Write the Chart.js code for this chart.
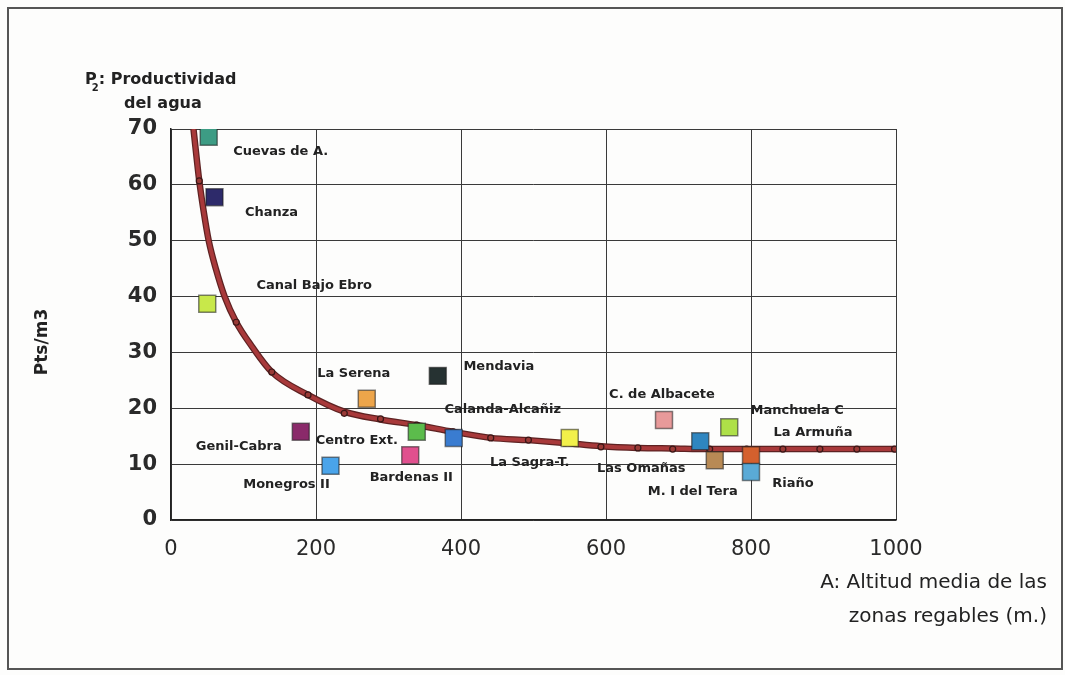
<!DOCTYPE html>
<html>
<head>
<meta charset="utf-8">
<script src="https://cdn.jsdelivr.net/npm/chart.js@4/dist/chart.umd.min.js"></script>
<style>
  body { margin: 0; background: #ffffff; }
  #wrap { width: 1065px; height: 675px; }
</style>
</head>
<body>
<div id="wrap"><canvas id="prodChart" width="1065" height="675"></canvas></div>
<script>
// zonas regables: altitud media (m) y productividad del agua (Pts/m3)
const zoneNames = ['Cuevas de A.', 'Chanza', 'Canal Bajo Ebro', 'Genil-Cabra', 'Monegros II', 'La Serena',
    'Centro Ext.', 'Bardenas II', 'Mendavia', 'Calanda-Alcañiz', 'La Sagra-T.', 'C. de Albacete',
    'Las Omañas', 'M. I del Tera', 'Manchuela C', 'La Armuña', 'Riaño'];
const zoneAltitude = [52, 60, 50, 179, 220, 270, 339, 330, 368, 390, 550, 680, 730, 750, 770, 800, 800];
const zoneProductivity = [68.6, 57.8, 38.7, 15.8, 9.7, 21.7, 15.8, 11.6, 25.8, 14.7, 14.7, 17.9, 14.1, 10.7, 16.6, 11.6, 8.6];
const zoneColors = ['#3d9c84', '#2d2a6a', '#c8e84a', '#8a2a6a', '#4aa4ea', '#eda54a', '#5cbc4c', '#e0508e', '#263232',
    '#3a7cd0', '#f2f04a', '#e89a9a', '#2f86c0', '#b88a55', '#aee048', '#d4602e', '#5aaad6'];

// curva ajustada
const curveAltitude = [31, 39, 45, 52, 62, 74, 90, 112, 139, 189, 239, 289, 339, 389, 441, 493, 543, 593, 644, 692, 743, 794, 844, 895, 946, 1000];
const curveValue = [70, 60.7, 55.3, 50, 44.9, 40, 35.4, 31, 26.5, 22.4, 19.4, 18.0, 17.0, 15.8, 14.7, 14.3, 13.8, 13.2, 12.9, 12.8, 12.7, 12.7, 12.7, 12.7, 12.7, 12.7];
const markerAltitude = [39, 90, 139, 189, 239, 289, 339, 389, 441, 493, 543, 593, 644, 692, 743, 794, 844, 895, 946, 998];
const markerValue = [60.7, 35.4, 26.5, 22.4, 19.1, 18.1, 17.0, 15.8, 14.7, 14.3, 13.8, 13.1, 12.9, 12.7, 12.7, 12.7, 12.7, 12.7, 12.7, 12.7];

const xTicks = [0, 200, 400, 600, 800, 1000];
const yTicks = [0, 10, 20, 30, 40, 50, 60, 70];

// label placement, px from the square centre
const labelShift = [[72, 15], [57, 15], [107, -18], [-62, 15], [-44, 19], [-13, -25], [-60, 9], [1, 22], [61, -9],
    [49, -28], [-40, 25], [-2, -25], [-59, 27], [-22, 31], [68, -17], [62, -23], [42, 12]];

const FONT = "'DejaVu Sans', sans-serif";

const toPoints = (xs, ys) => xs.map((x, i) => ({ x: x, y: ys[i] }));

const framePlugin = {
    id: 'frame',
    beforeDraw(chart) {
        const ctx = chart.ctx;
        ctx.save();
        ctx.fillStyle = '#fdfdfc';
        ctx.fillRect(0, 0, chart.width, chart.height);
        ctx.strokeStyle = '#555';
        ctx.lineWidth = 2;
        ctx.strokeRect(8, 8, 1054, 661);
        ctx.restore();
    },
    afterDraw(chart) {
        const ctx = chart.ctx;
        ctx.save();
        ctx.fillStyle = '#222';
        // top-left title with subscript
        ctx.font = 'bold 16px ' + FONT;
        ctx.textBaseline = 'middle';
        ctx.textAlign = 'left';
        ctx.fillText('P', 85, 80);
        const pw = ctx.measureText('P').width;
        ctx.font = 'bold 10px ' + FONT;
        ctx.fillText('2', 85 + pw - 5, 88);
        ctx.font = 'bold 16px ' + FONT;
        ctx.fillText(': Productividad', 85 + pw + 2, 80);
        ctx.fillText('del agua', 124, 104);

        // rotated y title
        ctx.save();
        ctx.translate(43, 342);
        ctx.rotate(-Math.PI / 2);
        ctx.textAlign = 'center';
        ctx.font = 'bold 17px ' + FONT;
        ctx.fillText('Pts/m3', 0, 0);
        ctx.restore();

        // x title, right aligned
        ctx.textAlign = 'right';
        ctx.font = '20px ' + FONT;
        ctx.fillStyle = '#222';
        ctx.fillText('A: Altitud media de las', 1047, 583);
        ctx.fillText('zonas regables (m.)', 1047, 617);
        ctx.restore();
    },
    afterDatasetsDraw(chart) {
        const ctx = chart.ctx;
        const xs = chart.scales.x, ys = chart.scales.y;
        ctx.save();
        ctx.font = 'bold 13px ' + FONT;
        ctx.fillStyle = '#222';
        ctx.textAlign = 'center';
        ctx.textBaseline = 'middle';
        zoneNames.forEach((name, i) => {
            const px = xs.getPixelForValue(zoneAltitude[i]) + labelShift[i][0];
            const py = ys.getPixelForValue(zoneProductivity[i]) + labelShift[i][1];
            ctx.fillText(name, px, py);
        });
        ctx.restore();
    }
};

new Chart(document.getElementById('prodChart'), {
    type: 'scatter',
    data: {
        datasets: [
            {
                label: 'zonas',
                data: toPoints(zoneAltitude, zoneProductivity),
                pointStyle: 'rect',
                pointRadius: 12,
                pointHoverRadius: 12,
                backgroundColor: zoneColors,
                borderColor: 'rgba(30,30,30,0.55)',
                borderWidth: 1.5,
                order: 0
            },
            {
                label: 'marcas',
                data: toPoints(markerAltitude, markerValue),
                pointStyle: 'circle',
                pointRadius: 3,
                backgroundColor: '#9a3a36',
                borderColor: '#3a1616',
                borderWidth: 1.2,
                order: 1
            },
            {
                label: 'curva',
                data: toPoints(curveAltitude, curveValue),
                showLine: true,
                pointRadius: 0,
                borderColor: '#a8393a',
                borderWidth: 4,
                cubicInterpolationMode: 'monotone',
                order: 2
            },
            {
                label: 'curva borde',
                data: toPoints(curveAltitude, curveValue),
                showLine: true,
                pointRadius: 0,
                borderColor: '#5e2222',
                borderWidth: 6.5,
                cubicInterpolationMode: 'monotone',
                order: 3
            }
        ]
    },
    options: {
        responsive: false,
        animation: false,
        layout: { padding: { left: 0, top: 129, right: 169, bottom: 0 } },
        plugins: {
            legend: { display: false },
            tooltip: { enabled: false }
        },
        scales: {
            x: {
                type: 'linear',
                min: 0,
                max: 1000,
                afterFit: (scale) => { scale.height = 155; },
                afterBuildTicks: (scale) => { scale.ticks = xTicks.map(v => ({ value: v })); },
                ticks: {
                    color: '#2a2a2a', font: { family: FONT, size: 21 }, padding: 17, maxRotation: 0,
                    callback: (v) => String(v)
                },
                grid: { color: '#3a3a3a', lineWidth: 1, drawTicks: false },
                border: { color: '#222', width: 1.5 }
            },
            y: {
                min: 0,
                max: 70,
                afterFit: (scale) => { scale.width = 171; },
                afterBuildTicks: (scale) => { scale.ticks = yTicks.map(v => ({ value: v })); },
                ticks: { color: '#2a2a2a', font: { family: FONT, size: 21, weight: 'bold' }, padding: 14 },
                grid: { color: '#3a3a3a', lineWidth: 1, drawTicks: false },
                border: { color: '#222', width: 1.5 }
            }
        }
    },
    plugins: [framePlugin]
});
</script>
</body>
</html>
